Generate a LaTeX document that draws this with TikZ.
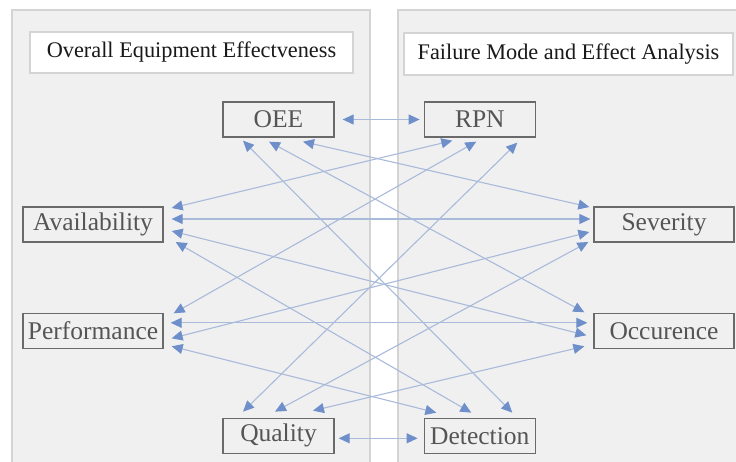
\documentclass[tikz,border=0pt]{standalone}
\usepackage{fontspec}
\setmainfont{Liberation Serif}
\usepackage{xcolor}
\usepackage{tikz}
\usetikzlibrary{arrows.meta,positioning,calc}

\definecolor{panelfill}{HTML}{F0F0F0}
\definecolor{panelline}{HTML}{D4D4D4}
\definecolor{boxline}{HTML}{6A6A6A}
\definecolor{boxtext}{HTML}{555555}
\definecolor{linkline}{HTML}{A9BADA}
\definecolor{linkhead}{HTML}{6F8FCB}

\begin{document}
\begin{tikzpicture}[
  x=1pt, y=-1pt,
  >={Triangle[length=11pt, width=10pt, color=linkhead]},
  panel/.style={draw=panelline, line width=1.3pt, fill=panelfill},
  title/.style={draw=panelline, line width=1.5pt, fill=white,
                inner sep=0pt, text=black!90,
                font=\fontsize{22.3}{26}\selectfont},
  var/.style={draw=boxline, line width=1.3pt, fill=panelfill,
              minimum width=#1, minimum height=35pt, inner sep=0pt,
              text=boxtext, font=\fontsize{25.5}{30}\selectfont},
  var/.default=111pt,
  arr/.style={<->, draw=linkline, line width=1.1pt},
]
\useasboundingbox (0,0) rectangle (736,461);
\clip (0,0) rectangle (736,461);

%% ─── Panels ──────────────────────────────────────────────────────────────────
\draw[panel] (12,10) rectangle (370,470);
\draw[panel] (398,10) rectangle (745,470);

\node[title, minimum width=323pt, minimum height=41pt] (oeetitle)
  at (191.5,52.5) {Overall Equipment Effectveness};
\node[title, minimum width=329pt, minimum height=42pt] (fmeatitle)
  at (568.5,54) {Failure Mode and Effect Analysis};

%% ─── Measures ────────────────────────────────────────────────────────────────
\node[var] (oee) at (278.5,119.5) {OEE};
\node[var, right=89pt of oee]  (rpn)  {RPN};
\node[var, below=280pt of oee] (qual) {Quality};
\node[var, right=89pt of qual] (det)  {Detection};

\node[var=140pt] (avail) at (93,224.5) {Availability};
\node[var=140pt, below=70pt of avail] (perf) {Performance};
\node[var=140pt] (sev) at (664,224.5) {Severity};
\node[var=140pt, below=70pt of sev]   (occ)  {Occurence};

%% ─── Links ───────────────────────────────────────────────────────────────────
%% OEE
\draw[arr] ($(oee.east)+(8,0)$)       -- ($(rpn.west)+(-4,0)$);
\draw[arr] ($(oee.south)+(24.5,4)$)   -- ($(sev.west)+(-4,-17.5)$);
\draw[arr] ($(oee.south)+(-9.5,4)$)   -- ($(occ.west)+(-9,-18.5)$);
\draw[arr] ($(oee.south)+(-35.5,3)$)  -- ($(det.north)+(32.5,-5)$);

%% Availability
\draw[arr] ($(avail.east)+(8,-16.5)$) -- ($(rpn.south)+(-27.5,3)$);
\draw[arr] ($(avail.east)+(8,-5.5)$)  -- ($(sev.west)+(-3,-5.5)$);
\draw[arr] ($(avail.east)+(8,6.5)$)   -- ($(occ.west)+(-7,4.5)$);
\draw[arr] ($(avail.east)+(12,17.5)$) -- ($(det.north)+(-8.5,-5)$);

%% Performance
\draw[arr] ($(perf.east)+(10,-17.5)$) -- ($(rpn.south)+(-3.5,4)$);
\draw[arr] ($(perf.east)+(7,-8)$)     -- ($(occ.west)+(-6,-8)$);
\draw[arr] ($(perf.east)+(8,7.5)$)    -- ($(sev.west)+(-4,7.5)$);
\draw[arr] ($(perf.east)+(8,15.5)$)   -- ($(det.north)+(-43.5,-5)$);

%% Quality
\draw[arr] ($(qual.north)+(-35.5,-6)$) -- ($(rpn.south)+(37.5,5)$);
\draw[arr] ($(qual.north)+(-3.5,-6)$)  -- ($(sev.west)+(-5,17.5)$);
\draw[arr] ($(qual.north)+(34.5,-7)$)  -- ($(occ.west)+(-9,15.5)$);
\draw[arr] ($(qual.east)+(4,2.5)$)     -- ($(det.west)+(-6,2.5)$);

\end{tikzpicture}
\end{document}
